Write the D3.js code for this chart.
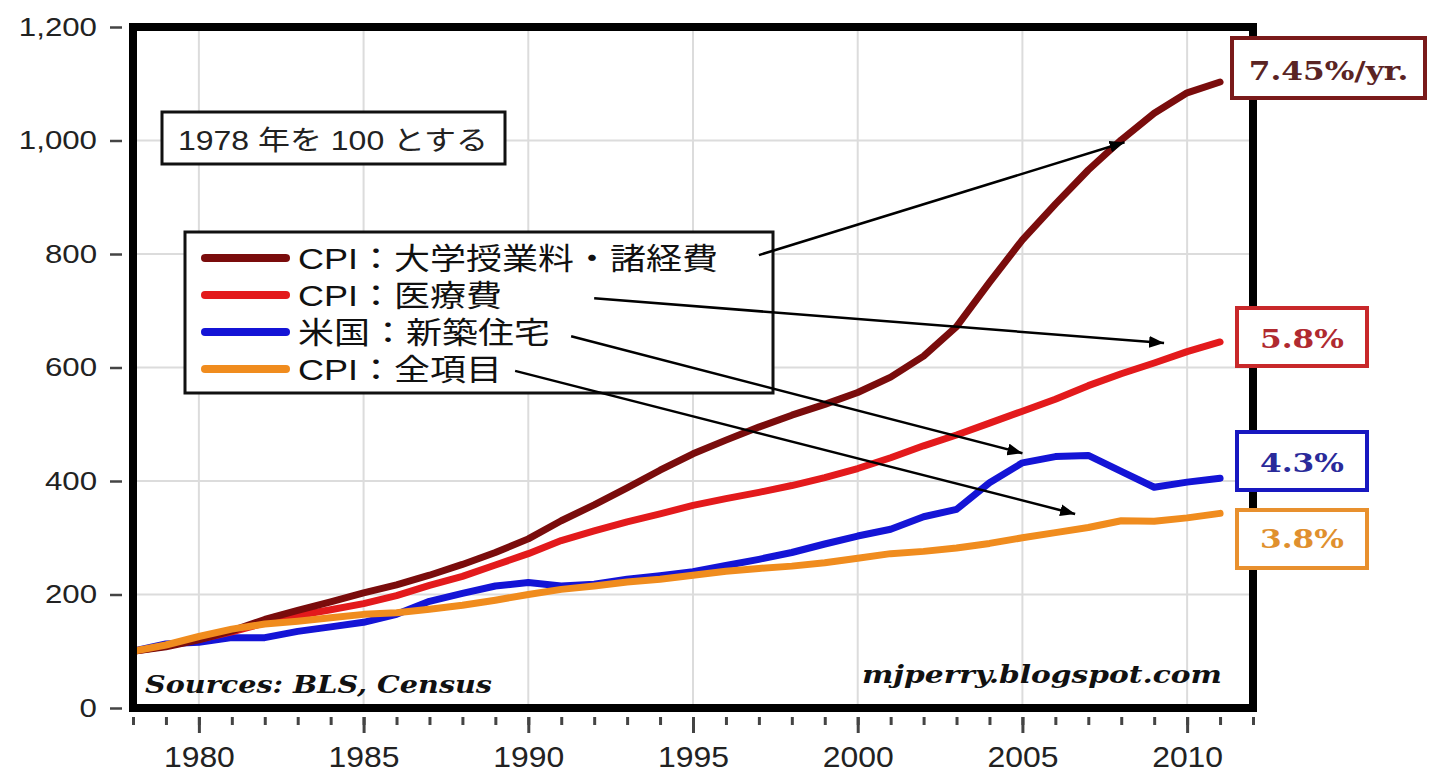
<!DOCTYPE html>
<html>
<head>
<meta charset="utf-8">
<script src="https://cdn.jsdelivr.net/npm/d3@7"></script>
<style>
  body { margin: 0; background: #fff; }
</style>
</head>
<body>
<svg id="chart" width="1433" height="772"></svg>
<script>
// Data, index 1978 = 100
const years = [1978, 1979, 1980, 1981, 1982, 1983, 1984, 1985, 1986, 1987, 1988, 1989,
               1990, 1991, 1992, 1993, 1994, 1995, 1996, 1997, 1998, 1999, 2000, 2001,
               2002, 2003, 2004, 2005, 2006, 2007, 2008, 2009, 2010, 2011];
const tuition  = [100, 108, 120, 136, 156, 172, 187, 203, 217, 234, 253, 274,
                  298, 330, 358, 388, 419, 448, 472, 495, 516, 535, 556, 583,
                  620, 672, 750, 825, 888, 948, 1001, 1048, 1084, 1103];
const medical  = [100, 109, 121, 134, 150, 163, 173, 184, 198, 216, 232, 252,
                  272, 295, 312, 328, 342, 357, 369, 380, 392, 406, 422, 441,
                  462, 481, 502, 523, 544, 568, 589, 608, 628, 645];
const newHomes = [100, 113, 116, 124, 124, 135, 143, 151, 165, 188, 202, 215,
                  221, 215, 218, 227, 233, 240, 251, 262, 274, 289, 303, 315,
                  337, 350, 397, 432, 443, 445, 417, 389, 398, 405];
const cpiAll   = [100, 111, 126, 139, 148, 153, 159, 165, 168, 174, 181, 190,
                  200, 209, 215, 222, 227, 234, 241, 246, 250, 256, 264, 272,
                  276, 282, 290, 300, 309, 318, 330, 329, 335, 343];

const seriesNames  = ["CPI：大学授業料・諸経費", "CPI：医療費", "米国：新築住宅", "CPI：全項目"];
const seriesColors = ["#7a0c0c", "#e31a1c", "#1414d6", "#f08c1e"];
const rateLabels   = ["7.45%/yr.", "5.8%", "4.3%", "3.8%"];
const yTicks = [0, 200, 400, 600, 800, 1000, 1200];
const xTicks = [1980, 1985, 1990, 1995, 2000, 2005, 2010];

const svg = d3.select("#chart");
const sansFont = "'Liberation Sans', Arial, 'Noto Sans CJK JP', sans-serif";
const serifFont = "'DejaVu Serif', Georgia, serif";

const x = d3.scaleLinear().domain([1978, 2012]).range([133, 1253]);
const y = d3.scaleLinear().domain([0, 1200]).range([708, 27]);

// Grid
svg.append("g").selectAll("line").data(xTicks).join("line")
    .attr("x1", d => x(d)).attr("x2", d => x(d))
    .attr("y1", y(1200)).attr("y2", y(0))
    .attr("stroke", "#dcdcdc").attr("stroke-width", 2);
svg.append("g").selectAll("line").data(yTicks.slice(1, -1)).join("line")
    .attr("x1", x(1978)).attr("x2", x(2012))
    .attr("y1", d => y(d)).attr("y2", d => y(d))
    .attr("stroke", "#dcdcdc").attr("stroke-width", 2);

// Series lines (drawing order: blue, red, maroon, orange on top)
const series = [
    { values: tuition,  color: seriesColors[0] },
    { values: medical,  color: seriesColors[1] },
    { values: newHomes, color: seriesColors[2] },
    { values: cpiAll,   color: seriesColors[3] }
];
const line = d3.line()
    .x((d, i) => x(years[i]))
    .y(d => y(d));

[2, 1, 0, 3].forEach(k => {
    svg.append("path")
        .datum(series[k].values)
        .attr("d", line)
        .attr("fill", "none")
        .attr("stroke", series[k].color)
        .attr("stroke-width", 7)
        .attr("stroke-linejoin", "round")
        .attr("stroke-linecap", "round");
});

// Frame
svg.append("rect")
    .attr("x", x(1978)).attr("y", y(1200))
    .attr("width", x(2012) - x(1978)).attr("height", y(0) - y(1200))
    .attr("fill", "none").attr("stroke", "#000").attr("stroke-width", 8);

// Y axis
const yAxis = svg.append("g")
    .attr("transform", "translate(122,0)")
    .call(d3.axisLeft(y).tickValues(yTicks).tickSize(12).tickPadding(0).tickFormat(d3.format(",")));
yAxis.select(".domain").remove();
yAxis.attr("font-family", sansFont).attr("font-size", 25);
yAxis.selectAll("line").attr("stroke", "#444").attr("stroke-width", 2.5);
yAxis.selectAll("text")
    .attr("x", 0)
    .attr("transform", "translate(-25,0) scale(1.25,1)")
    .attr("fill", "#222");

// X axis: minor ticks every year, major every 5 years with labels
const xMinor = svg.append("g")
    .attr("transform", "translate(0,717)")
    .call(d3.axisBottom(x).tickValues(years.concat([2012])).tickSize(8).tickFormat(""));
xMinor.select(".domain").remove();
xMinor.selectAll("line").attr("stroke", "#444").attr("stroke-width", 3);

const xMajor = svg.append("g")
    .attr("transform", "translate(0,717)")
    .call(d3.axisBottom(x).tickValues(xTicks).tickSize(16).tickFormat(d3.format("d")));
xMajor.select(".domain").remove();
xMajor.attr("font-family", sansFont).attr("font-size", 29);
xMajor.selectAll("line").attr("stroke", "#444").attr("stroke-width", 3);
xMajor.selectAll("text")
    .attr("y", 0).attr("dy", 0)
    .attr("transform", "translate(0,50) scale(1.1,1)")
    .attr("fill", "#222");

// Base note box
svg.append("rect")
    .attr("x", 162).attr("y", 112).attr("width", 343).attr("height", 52)
    .attr("fill", "#fff").attr("stroke", "#111").attr("stroke-width", 3);
svg.append("text")
    .attr("x", 178).attr("y", 150)
    .attr("font-family", sansFont).attr("font-size", 27).attr("fill", "#222")
    .attr("textLength", 310).attr("lengthAdjust", "spacingAndGlyphs")
    .text("1978 年を 100 とする");

// Legend
const legend = svg.append("g");
legend.append("rect")
    .attr("x", 185).attr("y", 232).attr("width", 588).attr("height", 161)
    .attr("fill", "#fff").attr("stroke", "#111").attr("stroke-width", 3);
seriesNames.forEach((name, i) => {
    const cy = 258 + i * 37;
    legend.append("line")
        .attr("x1", 205).attr("x2", 286).attr("y1", cy).attr("y2", cy)
        .attr("stroke", seriesColors[i]).attr("stroke-width", 8)
        .attr("stroke-linecap", "round");
    legend.append("text")
        .attr("transform", `translate(298,${cy + 11}) scale(1.2,1)`)
        .attr("font-family", sansFont).attr("font-size", 30).attr("fill", "#111")
        .text(name);
});

// Arrows from legend to lines
svg.append("defs").append("marker")
    .attr("id", "arrow")
    .attr("markerUnits", "userSpaceOnUse")
    .attr("markerWidth", 16).attr("markerHeight", 12)
    .attr("refX", 15).attr("refY", 6)
    .attr("orient", "auto")
    .append("path").attr("d", "M0,0 L15,6 L0,12 Z").attr("fill", "#000");

const arrows = [
    [[1997.0, 798], [2008.1, 997]],
    [[1992.0, 722], [2009.3, 643]],
    [[1991.3, 655], [2005.0, 449]],
    [[1989.6, 594], [2006.6, 342]]
];
arrows.forEach(([a, b]) => {
    svg.append("line")
        .attr("x1", x(a[0])).attr("y1", y(a[1]))
        .attr("x2", x(b[0])).attr("y2", y(b[1]))
        .attr("stroke", "#000").attr("stroke-width", 2.5)
        .attr("marker-end", "url(#arrow)");
});

// Rate boxes on the right
const rateBoxes = [
    { x: 1232, y: 38,  w: 193, h: 60, base: 80,  stroke: "#7a1a1a", fill: "#5a2424" },
    { x: 1237, y: 308, w: 130, h: 58, base: 348, stroke: "#c8282a", fill: "#b02a30" },
    { x: 1237, y: 432, w: 130, h: 58, base: 472, stroke: "#1818c0", fill: "#2a2a9a" },
    { x: 1237, y: 510, w: 130, h: 58, base: 548, stroke: "#e8902e", fill: "#e0902e" }
];
rateBoxes.forEach((b, i) => {
    svg.append("rect")
        .attr("x", b.x).attr("y", b.y).attr("width", b.w).attr("height", b.h)
        .attr("fill", "#fff").attr("stroke", b.stroke).attr("stroke-width", 4);
    svg.append("text")
        .attr("transform", `translate(${b.x + b.w / 2},${b.base}) scale(1.2,1)`)
        .attr("text-anchor", "middle")
        .attr("font-family", serifFont).attr("font-weight", "bold").attr("font-size", 26)
        .attr("fill", b.fill)
        .text(rateLabels[i]);
});

// Source and site credits
svg.append("text")
    .attr("x", 145).attr("y", 693)
    .attr("font-family", serifFont).attr("font-weight", "bold").attr("font-style", "italic")
    .attr("font-size", 24).attr("fill", "#111")
    .attr("textLength", 347).attr("lengthAdjust", "spacingAndGlyphs")
    .text("Sources: BLS, Census");
svg.append("text")
    .attr("x", 862).attr("y", 683)
    .attr("font-family", serifFont).attr("font-weight", "bold").attr("font-style", "italic")
    .attr("font-size", 24).attr("fill", "#111")
    .attr("textLength", 360).attr("lengthAdjust", "spacingAndGlyphs")
    .text("mjperry.blogspot.com");
</script>
</body>
</html>
